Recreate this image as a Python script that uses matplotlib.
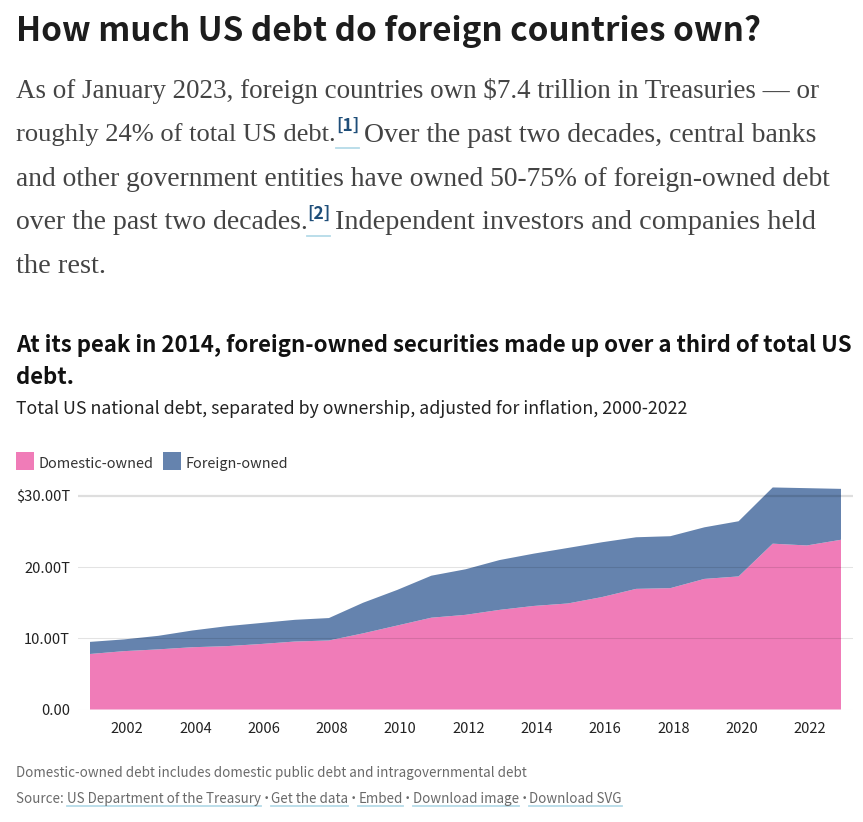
import matplotlib
matplotlib.use("Agg")
import matplotlib.pyplot as plt
from matplotlib.patches import Rectangle
from matplotlib.lines import Line2D
from matplotlib.transforms import ScaledTranslation

W, H = 863, 822
SANS = ['Noto Sans CJK SC', 'DejaVu Sans']
SERIF = ['Liberation Serif', 'DejaVu Serif']

years = list(range(2001, 2024))
domestic = [7.8, 8.2, 8.45, 8.75, 8.9, 9.2, 9.55, 9.7, 10.7, 11.8, 12.9, 13.3,
            14.0, 14.55, 14.9, 15.8, 16.95, 17.05, 18.35, 18.7, 23.3, 23.05, 23.85]
foreign = [1.7, 1.65, 1.9, 2.35, 2.8, 2.95, 3.05, 3.15, 4.3, 5.0, 5.9, 6.4,
           7.0, 7.35, 7.8, 7.7, 7.25, 7.3, 7.25, 7.75, 7.9, 8.05, 7.15]
series_names = ['Domestic-owned', 'Foreign-owned']
x_ticks = list(range(2002, 2024, 2))
y_ticks = [0, 10, 20, 30]
y_labels = ['0.00', '10.00T', '20.00T', '$30.00T']

PINK, BLUE = '#F07CB8', '#6583AE'
DARK, GREY, LINK, UL = '#1d1d1d', '#6a6a6a', '#1f4e79', '#b5dbe8'

fig = plt.figure(figsize=(W / 100, H / 100), dpi=100, facecolor='white')
overlay = fig.add_axes([0, 0, 1, 1], zorder=5)
overlay.set_xlim(0, W); overlay.set_ylim(H, 0); overlay.axis('off')
renderer = fig.canvas.get_renderer()


def put(x, y, s, size, color=DARK, family=SANS, weight='normal', underline=False, ul_y=3):
    t = overlay.text(x, y, s, fontsize=size, color=color, family=family, weight=weight,
                     va='baseline', ha='left')
    w = t.get_window_extent(renderer).width
    if underline:
        overlay.add_line(Line2D([x, x + w], [y + ul_y, y + ul_y], color=UL, lw=1.3))
    return x + w


put(16, 41, 'How much US debt do foreign countries own?', 23.95, weight='bold')

BODY = '#444444'
put(16, 97.5, 'As of January 2023, foreign countries own $7.4 trillion in Treasuries — or', 19.43, BODY, SERIF)
put(16, 141.5, 'roughly 24% of total US debt.', 19.05, BODY, SERIF)
put(336, 131, '[1]', 12.5, LINK, SANS, 'bold', underline=True, ul_y=17)
put(364, 141.5, 'Over the past two decades, central banks', 20.0, BODY, SERIF)
put(16, 185.5, 'and other government entities have owned 50-75% of foreign-owned debt', 19.83, BODY, SERIF)
put(16, 228.5, 'over the past two decades.', 19.95, BODY, SERIF)
put(307, 219, '[2]', 12.5, LINK, SANS, 'bold', underline=True, ul_y=17)
put(335, 228.5, 'Independent investors and companies held', 20.3, BODY, SERIF)
put(16, 272.5, 'the rest.', 20.5, BODY, SERIF)

put(16, 352, 'At its peak in 2014, foreign-owned securities made up over a third of total US', 16.0, '#111111', weight='bold')
put(16, 384, 'debt.', 16.0, '#111111', weight='bold')
put(16, 414, 'Total US national debt, separated by ownership, adjusted for inflation, 2000-2022', 12.8, '#222222')

overlay.add_patch(Rectangle((16, 452), 18, 18, color=PINK, lw=0))
put(38.5, 467.5, series_names[0], 10.4, '#333333')
overlay.add_patch(Rectangle((163, 452), 18, 18, color=BLUE, lw=0))
put(185.5, 467.5, series_names[1], 10.4, '#333333')

F = 9.65
put(16, 777, 'Domestic-owned debt includes domestic public debt and intragovernmental debt', F, GREY)
x = put(16, 803, 'Source: ', F, GREY)
links = ['US Department of the Treasury', 'Get the data', 'Embed', 'Download image', 'Download SVG']
for i, link in enumerate(links):
    x = put(x, 803, link, F, GREY, underline=True)
    if i < len(links) - 1:
        overlay.text(x + 5.1, 801, '•', fontsize=6.5, color=GREY, family='DejaVu Sans', ha='center', va='baseline')
        x += 10.2

# chart
px_left, px_right = 78, 853
px_y0, px_per_unit = 709.5, 7.117
y_top = 32
px_top = px_y0 - y_top * px_per_unit
ax = fig.add_axes([px_left / W, 1 - px_y0 / H, (px_right - px_left) / W, (px_y0 - px_top) / H], zorder=2)
ppy = 751 / 22
ax.set_xlim(2001 - (90 - px_left) / ppy, 2023 + (px_right - 841) / ppy)
ax.set_ylim(0, y_top)
ax.patch.set_alpha(0)
for s in ax.spines.values():
    s.set_visible(False)
ax.stackplot(years, domestic, foreign, colors=[PINK, BLUE], lw=0, zorder=1)
for v in y_ticks:
    ax.axhline(v, color='black', alpha=0.13 if v == 30 else 0.11, lw=1.6 if v == 30 else 0.75, zorder=3)
ax.set_xticks(x_ticks, [str(v) for v in x_ticks])
ax.set_yticks(y_ticks, y_labels)
ax.tick_params(axis='both', length=0, labelsize=10.6, labelcolor='#222222')
ax.tick_params(axis='x', pad=9)
ax.tick_params(axis='y', pad=5.7)
for lab in ax.get_xticklabels() + ax.get_yticklabels():
    lab.set_family(SANS)
off = ScaledTranslation(3 / 100, 0, fig.dpi_scale_trans)
for lab in ax.get_xticklabels():
    lab.set_transform(lab.get_transform() + off)

fig.savefig('out.png', dpi=100)
